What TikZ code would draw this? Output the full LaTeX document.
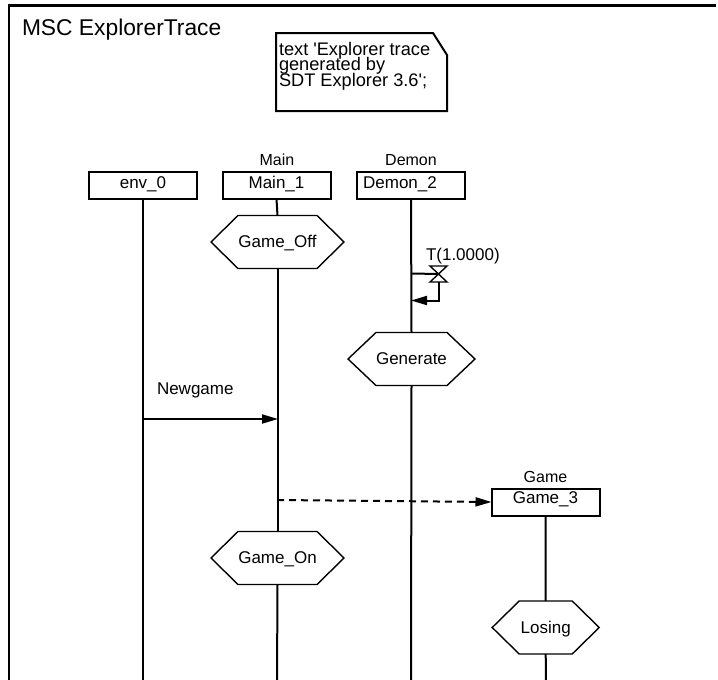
\documentclass[tikz,border=0pt]{standalone}
\usepackage{fontspec}
\setmainfont{Liberation Sans}[Ligatures=TeXOff]
\usetikzlibrary{arrows.meta}

% draws a condition hexagon around a (undrawn) node #1 with side points #2 out
\newcommand\condhex[2]{%
  \draw[condline] (#1.north west) -- (#1.north east) -- ([xshift=#2]#1.east)
    -- (#1.south east) -- (#1.south west) -- ([xshift=-#2]#1.west) -- cycle;}

\begin{document}
\begin{tikzpicture}[x=1pt,y=-1pt,
  every node/.style={inner sep=0pt, outer sep=0pt},
  lbl/.style={font=\fontsize{16}{16}\selectfont, anchor=base},
  biglbl/.style={font=\fontsize{17}{17}\selectfont, anchor=base},
  notetext/.style={font=\fontsize{18.2}{18.2}\selectfont, anchor=base west},
  instbox/.style={draw, line width=2pt, minimum width=108pt, minimum height=27pt},
  cond/.style={minimum width=79pt, minimum height=53pt},
  condline/.style={line width=1.4pt, line join=miter},
  life/.style={line width=2pt},
  frameline/.style={line width=2.2pt},
  msg/.style={line width=2pt, -{Triangle[length=16pt,width=9pt]}},
  createmsg/.style={msg, dash pattern=on 7pt off 5pt},
  timerline/.style={line width=1.4pt},
]
\useasboundingbox (0,0) rectangle (718,680);

% diagram frame and title
\coordinate (frTR) at (716,5.5);
\coordinate (frTL) at (9,5.5);
\coordinate (frBL) at (9,681);
\draw[frameline] (frTR) -- (frTL) -- (frBL);
\node[anchor=base west, font=\fontsize{22.8}{22.8}\selectfont] (title) at (22,35) {MSC ExplorerTrace};

% comment note with folded corner
\coordinate (nA) at (276,33);
\coordinate (nB) at (433,33);
\coordinate (nC) at (447,55);
\coordinate (nD) at (447,111);
\coordinate (nE) at (276,111);
\draw[line width=2pt, line join=miter] (nA) -- (nB) -- (nC) -- (nD) -- (nE) -- cycle;
\node[notetext] (note1) at (279,55) {text 'Explorer trace};
\node[notetext] (note2) at (279,70.5) {generated by};
\node[notetext] (note3) at (279,86) {SDT Explorer 3.6';};

% instance heads
\node[instbox] (env) at (143,185.5) {};
\node[instbox] (main) at (276.5,185.5) {};
\node[instbox] (demon) at (411,185) {};
\node[instbox] (game) at (545.5,502) {};
\node[biglbl] (envT) at (143,188) {env\_0};
\node[biglbl] (mainT) at (276.5,188) {Main\_1};
\node[biglbl] (demonT) at (400,188) {Demon\_2};
\node[biglbl] (gameT) at (545.5,503.5) {Game\_3};
\node[lbl] (mainN) at (277,165.5) {Main};
\node[lbl] (demonN) at (411,165.5) {Demon};
\node[lbl] (gameN) at (545.5,482) {Game};

% conditions
\node[cond] (goff) at (277.5,242) {};
\node[cond, minimum width=71pt] (gen) at (411.5,359) {};
\node[cond] (gon) at (277.5,558) {};
\node[cond, minimum width=53pt] (lose) at (545.7,627.5) {};
\condhex{goff}{27}
\condhex{gen}{28}
\condhex{gon}{27}
\condhex{lose}{27}
\node[biglbl] (goffT) at (277.5,247) {Game\_Off};
\node[biglbl] (genT) at (411.5,364) {Generate};
\node[biglbl] (gonT) at (277.5,563) {Game\_On};
\node[biglbl] (loseT) at (545.7,633) {Losing};

% lifelines
\coordinate (envEnd) at (143,681);
\coordinate (mainEnd) at (277,681);
\coordinate (demonEnd) at (411,681);
\coordinate (gameEnd) at (546,681);
\draw[life] (env.south) -- (envEnd);
\draw[life] (main.south) -- (goff.north);
\draw[life] (goff.south) -- (gon.north);
\draw[life] (gon.south) -- (mainEnd);
\draw[life] (demon.south) -- (gen.north);
\draw[life] (gen.south) -- (demonEnd);
\draw[life] (game.south) -- (lose.north);
\draw[life] (lose.south) -- (gameEnd);

% timer set and timeout on Demon
\coordinate (tset) at (411,273.5);
\coordinate (tout) at (411,300.5);
\node[minimum width=17pt, minimum height=16pt] (timer) at (438.5,274) {};
\draw[timerline] (timer.north west) -- (timer.north east) -- (timer.south west) -- (timer.south east) -- cycle;
\draw[life] (tset) -- (timer.center);
\draw[msg] (timer.south) |- (tout);
\node[biglbl, anchor=base west] (timerT) at (426,260) {T(1.0000)};

% messages
\coordinate (ngFrom) at (143,419);
\coordinate (ngTo) at (278,419);
\draw[msg] (ngFrom) -- (ngTo);
\node[biglbl, anchor=base west] (ngT) at (157,394) {Newgame};

\coordinate (crFrom) at (277,500);
\draw[createmsg] (crFrom) -- (game.west);
\end{tikzpicture}
\end{document}
